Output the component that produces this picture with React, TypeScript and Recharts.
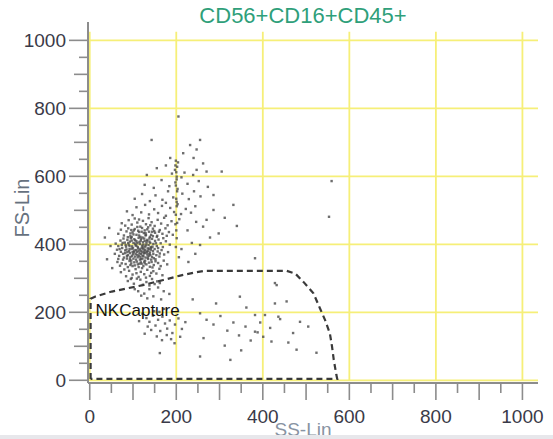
import React from 'react';
import { ScatterChart, Scatter, XAxis, YAxis, ReferenceLine, ReferenceDot } from 'recharts';

type Pt = [number, number]; // [SS-Lin, FS-Lin]

// axis ticks
const gridValues = [0, 200, 400, 600, 800, 1000];
const tickValues = [0, 50, 100, 150, 200, 250, 300, 350, 400, 450, 500, 550, 600, 650, 700, 750, 800, 850, 900, 950, 1000];

// NKCapture gate outline (SS, FS)
const gateOutline: Pt[] = [
  [2, 4], [2, 240], [12, 246], [51, 261], [85, 270], [123, 280], [170, 295], [209, 308], [239, 316], [265, 322],
  [455, 322], [475, 314], [495, 288], [517, 256], [532, 212], [544, 177], [555, 138], [560, 99], [564, 60],
  [570, 16], [572, 4], [2, 4],
];
const gateLabelAt: Pt = [2, 240];

// events, grouped by region
const coreEvents: Pt[] = [
  [88, 292], [102, 284], [117, 296], [131, 289], [144, 298], [156, 291], [123, 281], [109, 299], [138, 279], [150, 283], [95, 298], [162, 286],
  [72, 318], [84, 306], [91, 322], [99, 311], [106, 327], [113, 304], [118, 319], [126, 312], [133, 325], [139, 307], [147, 321], [154, 314],
  [161, 328], [168, 309], [97, 301], [121, 330], [142, 316], [108, 315], [80, 326], [130, 302],
  [64, 348], [70, 337], [77, 355], [83, 342], [88, 333], [92, 351], [96, 344], [101, 358], [104, 338], [109, 349], [113, 333], [116, 355],
  [120, 343], [124, 336], [128, 352], [131, 341], [135, 357], [139, 334], [143, 348], [148, 339], [152, 356], [158, 345], [164, 336], [171, 352],
  [179, 341], [86, 358], [99, 336], [111, 341], [122, 358], [137, 346], [145, 332], [118, 347], [94, 339], [127, 344],
  [58, 372], [63, 384], [68, 366], [72, 378], [75, 389], [79, 361], [82, 374], [85, 385], [88, 368], [91, 380], [94, 363], [97, 387],
  [100, 371], [102, 377], [105, 364], [107, 383], [110, 369], [112, 388], [115, 375], [117, 362], [119, 381], [122, 367], [124, 386], [126, 373],
  [129, 361], [131, 379], [134, 388], [136, 366], [139, 376], [141, 384], [144, 363], [147, 372], [150, 386], [154, 368], [157, 379], [161, 364],
  [166, 383], [172, 370], [181, 377], [93, 374], [103, 382], [114, 367], [121, 376], [128, 384], [133, 370], [109, 378], [98, 366], [118, 371],
  [125, 379], [138, 372], [146, 380], [87, 377], [77, 372],
  [60, 402], [66, 395], [71, 411], [74, 398], [78, 417], [81, 405], [84, 393], [87, 413], [90, 399], [93, 408], [95, 418], [98, 394],
  [101, 404], [103, 415], [106, 397], [108, 409], [111, 392], [113, 419], [116, 401], [118, 411], [121, 396], [123, 406], [126, 417], [128, 393],
  [131, 403], [133, 413], [136, 398], [138, 408], [141, 392], [144, 416], [147, 401], [151, 410], [155, 395], [159, 414], [164, 403], [169, 392],
  [176, 409], [185, 399], [97, 411], [105, 402], [115, 407], [124, 399], [132, 409], [110, 404], [119, 416], [92, 395], [140, 404], [127, 410],
  [66, 431], [72, 443], [79, 426], [85, 438], [89, 447], [94, 424], [99, 435], [104, 445], [108, 428], [112, 440], [117, 422], [121, 448],
  [125, 433], [129, 426], [133, 444], [137, 437], [142, 428], [146, 446], [151, 434], [156, 425], [162, 442], [168, 431], [175, 447], [183, 436],
  [192, 428], [101, 429], [114, 436], [127, 441], [139, 422], [96, 442], [149, 439],
  [74, 462], [82, 455], [90, 471], [97, 458], [104, 476], [110, 464], [117, 452], [123, 469], [130, 459], [136, 477], [143, 465], [150, 454],
  [157, 472], [165, 461], [172, 478], [180, 456], [189, 468], [198, 459], [207, 474], [114, 473], [140, 456],
  [40, 356], [48, 395], [35, 420], [52, 330], [45, 448],
];

// densest part of the lymphocyte cloud
const coreDenseEvents: Pt[] = [
  [96, 352], [103, 347], [111, 362], [119, 356], [126, 349], [134, 361], [142, 355], [100, 389], [108, 396], [116, 385], [123, 391], [130, 397],
  [137, 387], [145, 393], [92, 386], [89, 404], [97, 421], [105, 412], [114, 426], [122, 420], [130, 428], [138, 417], [146, 424], [153, 403],
  [158, 389], [162, 373], [152, 350], [107, 355], [115, 343], [124, 365], [132, 376], [140, 368], [148, 359], [83, 398], [88, 421], [94, 432],
  [102, 441], [110, 451], [120, 437], [129, 433], [135, 450], [144, 437], [106, 372], [113, 381], [120, 389], [127, 375], [135, 381], [142, 389],
  [99, 378], [93, 357], [86, 365], [155, 422], [160, 437], [170, 418], [178, 425], [82, 382], [76, 404], [69, 386], [66, 357], [74, 344],
];

const tailEvents: Pt[] = [
  [86, 497], [99, 486], [108, 509], [119, 494], [128, 516], [137, 488], [149, 503], [158, 492], [167, 513], [176, 484], [186, 507], [195, 495],
  [203, 518], [211, 489], [222, 504], [234, 493], [244, 512],
  [104, 534], [121, 548], [139, 527], [152, 544], [168, 531], [181, 556], [193, 538], [201, 525], [214, 549], [229, 533], [241, 556], [256, 541], [176, 522],
  [127, 575], [148, 566], [166, 589], [184, 571], [198, 582], [203, 563], [212, 597], [226, 578], [239, 604], [252, 586], [273, 569], [132, 604],
  [197, 619], [201, 599], [247, 619], [270, 614], [305, 614], [190, 608], [219, 611],
  [155, 624], [186, 654], [216, 668], [240, 654], [247, 679], [232, 692], [143, 707], [255, 707], [204, 641], [198, 632], [262, 638], [176, 632],
  [205, 776],
  [199, 392], [201, 418], [200, 441], [202, 463], [199, 487], [201, 512], [200, 534], [202, 556], [199, 573], [201, 591], [200, 612], [202, 628], [199, 646],
  [332, 516], [340, 454], [286, 545], [286, 501], [270, 472], [312, 478], [262, 452], [298, 432], [246, 466], [278, 420], [226, 441], [255, 398],
  [382, 359], [236, 404], [212, 386], [244, 372], [206, 362], [228, 348],
];

const gateEvents: Pt[] = [
  [112, 262], [126, 255], [138, 268], [147, 247], [158, 273], [133, 241], [119, 249], [104, 268], [171, 262], [184, 254], [165, 238],
  [122, 196], [131, 183], [138, 172], [146, 190], [152, 161], [158, 178], [163, 145], [168, 187], [174, 167], [179, 152], [185, 176], [191, 139],
  [197, 164], [205, 182], [213, 151], [221, 171], [142, 148], [155, 129], [167, 118], [178, 133], [149, 203], [134, 158], [127, 137], [188, 121],
  [161, 201], [196, 109], [114, 174], [172, 210], [209, 128], [162, 80],
  [255, 197], [270, 178], [286, 164], [302, 189], [318, 146], [332, 170], [345, 132], [360, 158], [372, 117], [388, 141], [394, 170], [405, 192],
  [417, 154], [428, 226], [436, 187], [401, 128], [420, 114], [459, 111], [470, 139], [486, 172], [505, 158], [524, 81], [382, 192], [382, 143],
  [428, 286], [432, 280], [347, 246], [255, 70], [325, 60], [478, 90], [440, 180], [292, 226], [238, 238], [312, 102], [362, 214], [455, 232],
  [263, 124], [350, 88],
];

const outlierEvents: Pt[] = [[559, 586], [553, 481]];

const toRows = (pts: Pt[]) => pts.map(([ss, fs]) => ({ ss, fs }));
const events = toRows([...coreEvents, ...coreDenseEvents, ...tailEvents, ...gateEvents, ...outlierEvents]);
const gateRows = toRows(gateOutline);

const FONT = '"Liberation Sans", Arial, sans-serif';
const axisColor = '#8c8c8c';
const labelColor = '#3a3a48';
const gridColor = '#f6ef78';

const XTick = ({ x, y, payload }: any) => {
  const v = payload.value;
  const len = v % 100 === 0 ? 17 : 10;
  return (
    <g>
      <line x1={x} y1={y} x2={x} y2={y + len} stroke={axisColor} strokeWidth={1.6} />
      {v % 200 === 0 && (
        <text x={x} y={y + 40} textAnchor="middle" fontSize={19} fill={labelColor} fontFamily={FONT}>
          {v}
        </text>
      )}
    </g>
  );
};

const YTick = ({ x, y, payload }: any) => {
  const v = payload.value;
  const len = v % 200 === 0 ? 19 : v % 100 === 0 ? 14 : 9;
  return (
    <g>
      <line x1={x - len} y1={y} x2={x} y2={y} stroke={axisColor} strokeWidth={1.6} />
      {v % 200 === 0 && (
        <text x={x - 22} y={y + 7} textAnchor="end" fontSize={19} fill={labelColor} fontFamily={FONT}>
          {v}
        </text>
      )}
    </g>
  );
};

const Dot = ({ cx, cy }: any) => (
  <rect x={cx - 1.2} y={cy - 1.2} width={2.4} height={2.4} fill="#4a4a4a" fillOpacity={0.8} />
);

const GateLabel = ({ viewBox }: any) => (
  <text x={viewBox.x + 5} y={viewBox.y + 17} fontSize={17} fill="#111" fontFamily={FONT}>
    NKCapture
  </text>
);

export default function App() {
  return (
    <div style={{ position: 'absolute', left: 0, top: 0, width: 553, height: 439, background: '#fff', overflow: 'hidden' }}>
      <div style={{ position: 'absolute', left: 0, width: 606, top: 3, textAlign: 'center', fontFamily: FONT, fontSize: 22, color: '#2f9f7a' }}>
        CD56+CD16+CD45+
      </div>
      <div
        style={{
          position: 'absolute', left: 22, top: 208, transform: 'translate(-50%, -50%) rotate(-90deg)',
          fontFamily: FONT, fontSize: 20, color: '#66717e', whiteSpace: 'nowrap',
        }}
      >
        FS-Lin
      </div>
      <ScatterChart width={553} height={439} margin={{ top: 22, right: 15, bottom: 0, left: 0 }}>
        <XAxis
          type="number" dataKey="ss" domain={[-4, 1036]} allowDataOverflow ticks={tickValues} interval={0}
          tick={<XTick />} tickLine={false} tickSize={0} tickMargin={0} height={56}
          axisLine={{ stroke: axisColor, strokeWidth: 2 }}
        />
        <YAxis
          type="number" dataKey="fs" domain={[-8, 1054]} allowDataOverflow ticks={tickValues} interval={0}
          tick={<YTick />} tickLine={false} tickSize={0} tickMargin={0} width={88}
          axisLine={{ stroke: axisColor, strokeWidth: 2 }}
        />
        {gridValues.map((v) => (
          <ReferenceLine key={'h' + v} segment={[{ x: -4, y: v }, { x: 1036, y: v }]} stroke={gridColor} strokeWidth={1.8} />
        ))}
        {gridValues.map((v) => (
          <ReferenceLine key={'v' + v} segment={[{ x: v, y: 0 }, { x: v, y: 1025 }]} stroke={gridColor} strokeWidth={1.8} />
        ))}
        <Scatter data={events} shape={<Dot />} isAnimationActive={false} />
        <Scatter
          data={gateRows} isAnimationActive={false} shape={() => <g />}
          line={{ stroke: '#3a3a3a', strokeWidth: 2.2, strokeDasharray: '6 4' }}
        />
        <ReferenceDot x={gateLabelAt[0]} y={gateLabelAt[1]} r={0} fill="none" stroke="none" label={<GateLabel />} />
      </ScatterChart>
      <div style={{ position: 'absolute', left: 0, width: 606, top: 419, textAlign: 'center', fontFamily: FONT, fontSize: 19, color: '#8893a2' }}>
        SS-Lin
      </div>
      <div style={{ position: 'absolute', left: 0, top: 435, width: 553, height: 4, background: '#e7e7eb' }} />
    </div>
  );
}
